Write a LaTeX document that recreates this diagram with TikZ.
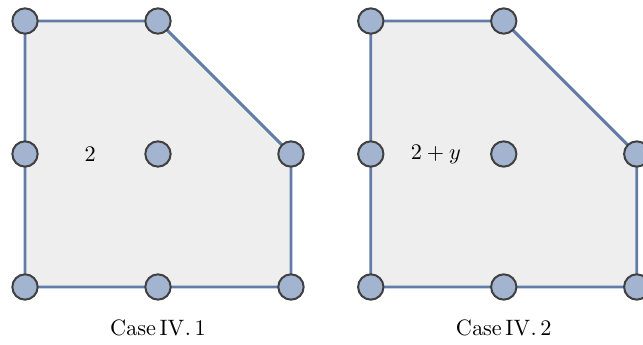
\documentclass[tikz,border=0pt]{standalone}
\usepackage{amsmath,amssymb}
\usetikzlibrary{positioning,backgrounds}
\definecolor{ptfill}{RGB}{162,180,207}
\definecolor{edgeblue}{RGB}{98,124,168}
\definecolor{polyfill}{RGB}{238,238,238}
\tikzset{
  latpt/.style={circle,draw=black!75,fill=ptfill,line width=0.9pt,inner sep=0pt,minimum size=0.4cm},
  polyedge/.style={draw=edgeblue,line width=1.3pt,fill=polyfill,line join=round},
  casecap/.style={font=\normalsize}
}

\begin{document}
\begin{tikzpicture}[x=2.1cm,y=2.1cm]
  \useasboundingbox (-0.188,-0.429) rectangle (4.647,2.158);
  \foreach \p/\dx/\lbl/\c in {l/0/{$2$}/1, r/2.6/{$2+y$}/2} {
    \foreach \i/\j in {0/0,1/0,2/0,0/1,1/1,2/1,0/2,1/2}
      \node[latpt] (\p\i\j) at (\dx+\i,\j) {};
    \begin{scope}[on background layer]
      \draw[polyedge] (\p00.center) -- (\p20.center) -- (\p21.center)
        -- (\p12.center) -- (\p02.center) -- cycle;
    \end{scope}
    \node (\p lbl) at (\dx+0.49,1) {\lbl};
    \node[casecap] (\p cap) at (\dx+1,-0.31) {$\mathrm{Case\,IV.\,\c}$};
  }
\end{tikzpicture}
\end{document}
